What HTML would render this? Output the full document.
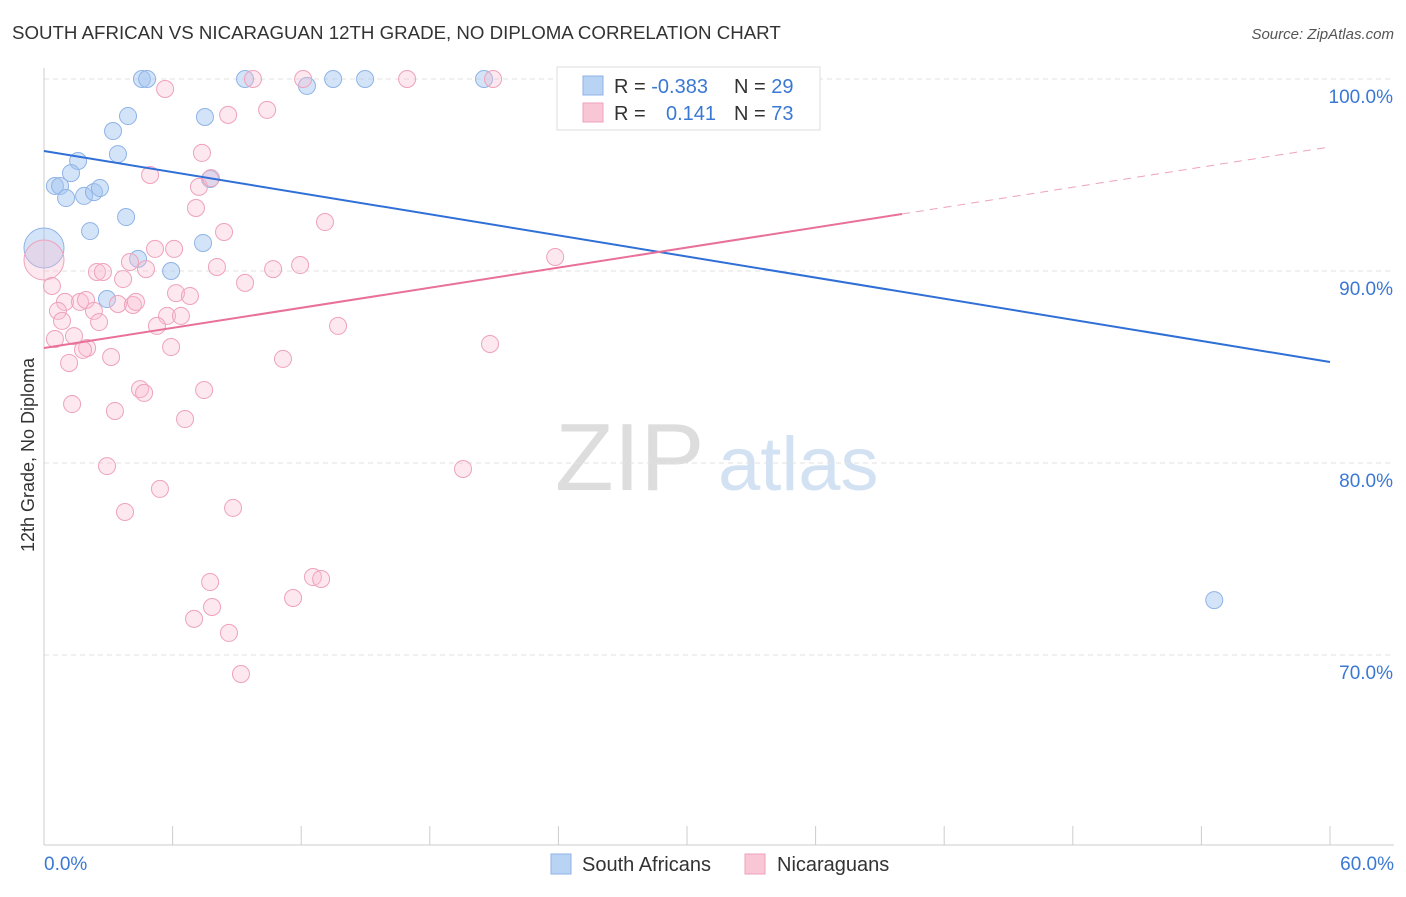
<!DOCTYPE html>
<html><head><meta charset="utf-8"><style>
body{margin:0;background:#fff;font-family:"Liberation Sans",sans-serif;}
svg text{font-family:"Liberation Sans",sans-serif;}
</style></head><body>
<svg id="chart" width="1406" height="892" xmlns="http://www.w3.org/2000/svg">
<text x="12" y="39" font-size="18.7" fill="#333">SOUTH AFRICAN VS NICARAGUAN 12TH GRADE, NO DIPLOMA CORRELATION CHART</text>
<text x="1394" y="39" font-size="15" fill="#555" text-anchor="end" font-style="italic">Source: ZipAtlas.com</text>
<text x="555" y="490" font-size="96" fill="#ddd" font-family="Liberation Serif">ZIP</text>
<text x="718" y="490" font-size="76" fill="#d3e2f3">atlas</text>
<text transform="translate(34,455) rotate(-90)" font-size="18" fill="#333" text-anchor="middle">12th Grade, No Diploma</text>
<g id="grid"></g><g id="pts"></g><g id="lines"></g>
<g>
<rect x="557" y="67" width="263" height="63" fill="#fff" stroke="#ddd"/>
<rect x="583" y="76" width="20" height="19" fill="#b9d3f5" stroke="#8fb3e6"/>
<rect x="583" y="103" width="20" height="19" fill="#f9c6d5" stroke="#eea2bb"/>
<text x="614" y="93" font-size="20" fill="#333">R = <tspan fill="#3b78d4">-0.383</tspan></text>
<text x="734" y="93" font-size="20" fill="#333">N = <tspan fill="#3b78d4">29</tspan></text>
<text x="614" y="120" font-size="20" fill="#333">R = </text>
<text x="666" y="120" font-size="20" fill="#3b78d4">0.141</text>
<text x="734" y="120" font-size="20" fill="#333">N = <tspan fill="#3b78d4">73</tspan></text>
</g>
<g>
<rect x="551" y="854" width="20" height="20" fill="#b9d3f5" stroke="#8fb3e6"/>
<text x="582" y="871" font-size="20" fill="#333">South Africans</text>
<rect x="745" y="854" width="20" height="20" fill="#f9c6d5" stroke="#eea2bb"/>
<text x="777" y="871" font-size="20" fill="#333">Nicaraguans</text>
</g>
</svg>
<script>
const yTicks=[100,90,80,70];
const yTickLabels=["100.0%","90.0%","80.0%","70.0%"];
const xTickVals=[0,6,12,18,24,30,36,42,48,54,60];
const blueX=[4.57,4.81,9.38,12.27,13.49,14.98,20.53,33.6,3.22,3.92,7.51,3.45,1.59,1.26,0.51,0.75,1.03,1.87,2.33,2.61,7.75,3.83,2.15,7.42,4.39,5.93,2.94,0,54.6];
const blueY=[100,100,100,99.64,100,100,100,100,97.29,98.07,98.02,96.09,95.73,95.1,94.43,94.43,93.8,93.91,94.11,94.32,94.79,92.81,92.08,91.46,90.63,90.0,88.54,91.2,72.86];
const blueBig=[27];
const pinkX=[5.65,9.75,12.09,16.94,20.95,10.41,8.59,7.37,4.95,7.23,7.79,7.09,13.11,8.4,5.18,6.07,4.01,4.76,2.47,2.75,8.07,10.69,11.95,23.85,0,0.37,3.69,9.38,6.16,6.81,0.98,1.68,1.96,3.45,4.15,4.29,0.65,2.33,5.74,6.39,0.84,2.57,5.27,13.72,1.4,0.51,2.01,1.82,5.93,20.81,11.15,3.13,1.17,4.48,4.67,7.47,1.31,3.31,6.58,2.94,19.55,5.41,3.78,8.82,7.75,12.55,12.93,11.62,7.84,7.0,8.63,9.19];
const pinkY=[99.48,100,100,100,100,98.39,98.13,96.15,95.0,94.38,94.84,93.28,92.55,92.03,91.15,91.15,90.47,90.1,89.95,89.95,90.21,90.1,90.31,90.73,90.57,89.22,89.58,89.38,88.85,88.7,88.39,88.39,88.49,88.28,88.23,88.39,87.92,87.92,87.66,87.66,87.4,87.34,87.14,87.14,86.61,86.46,85.99,85.89,86.04,86.2,85.42,85.52,85.21,83.85,83.65,83.8,83.07,82.71,82.29,79.84,79.69,78.65,77.45,77.66,73.8,74.06,73.96,72.97,72.5,71.88,71.15,69.01];
const pinkBig=[24];
const blueTrend=[[0,96.25],[60,85.26]];
const pinkTrend=[[0,85.99],[40.03,92.97],[60,96.46]];
const X=v=>44+v*(1286/60), Y=v=>79+(100-v)*19.2;
const NS="http://www.w3.org/2000/svg";
function mk(t,a,p){const e=document.createElementNS(NS,t);for(const k in a)e.setAttribute(k,a[k]);p.appendChild(e);return e;}
const g=document.getElementById('grid');
yTicks.forEach((v,i)=>{
 const l=mk('line',{x1:44,x2:1394,y1:Y(v),y2:Y(v),stroke:'#e2e2e2','stroke-dasharray':'5,4'},g);
 
 
 const t=mk('text',{x:1393,y:Y(v)+24,'font-size':19,fill:'#3b78d4','text-anchor':'end'},g);t.textContent=yTickLabels[i];
 
 
});
const ax=mk('line',{x1:44,x2:44,y1:68,y2:845,stroke:'#ccc'},g);


const bx=mk('line',{x1:44,x2:1394,y1:845,y2:845,stroke:'#ccc'},g);


xTickVals.forEach(v=>{const t=mk('line',{x1:X(v),x2:X(v),y1:826,y2:845,stroke:'#ccc'},g);
 
 });
let t0=mk('text',{x:44,y:870,'font-size':19,fill:'#3b78d4'},g);t0.textContent='0.0%';


let t1=mk('text',{x:1394,y:870,'font-size':19,fill:'#3b78d4','text-anchor':'end'},g);t1.textContent='60.0%';


const p=document.getElementById('pts');
blueX.forEach((x,i)=>{const c=mk('circle',{cx:X(x),cy:Y(blueY[i]),r:blueBig.includes(i)?20:8.5,fill:'rgba(160,196,240,0.45)',stroke:'#8fb3e6','stroke-width':1},p);
 
 });
pinkX.forEach((x,i)=>{const c=mk('circle',{cx:X(x),cy:Y(pinkY[i]),r:pinkBig.includes(i)?20:8.5,fill:'rgba(248,190,208,0.35)',stroke:'#eea2bb','stroke-width':1},p);
 
 });
const L=document.getElementById('lines');
const bl=mk('line',{x1:X(blueTrend[0][0]),y1:Y(blueTrend[0][1]),x2:X(blueTrend[1][0]),y2:Y(blueTrend[1][1]),stroke:'#2f6fd6','stroke-width':2},L);


const pl=mk('line',{x1:X(pinkTrend[0][0]),y1:Y(pinkTrend[0][1]),x2:X(pinkTrend[1][0]),y2:Y(pinkTrend[1][1]),stroke:'#e8709a','stroke-width':2},L);


const pd=mk('line',{x1:X(pinkTrend[1][0]),y1:Y(pinkTrend[1][1]),x2:X(pinkTrend[2][0]),y2:Y(pinkTrend[2][1]),stroke:'#eea2bb','stroke-width':1,'stroke-dasharray':'8,6'},L);


</script>
</body></html>
